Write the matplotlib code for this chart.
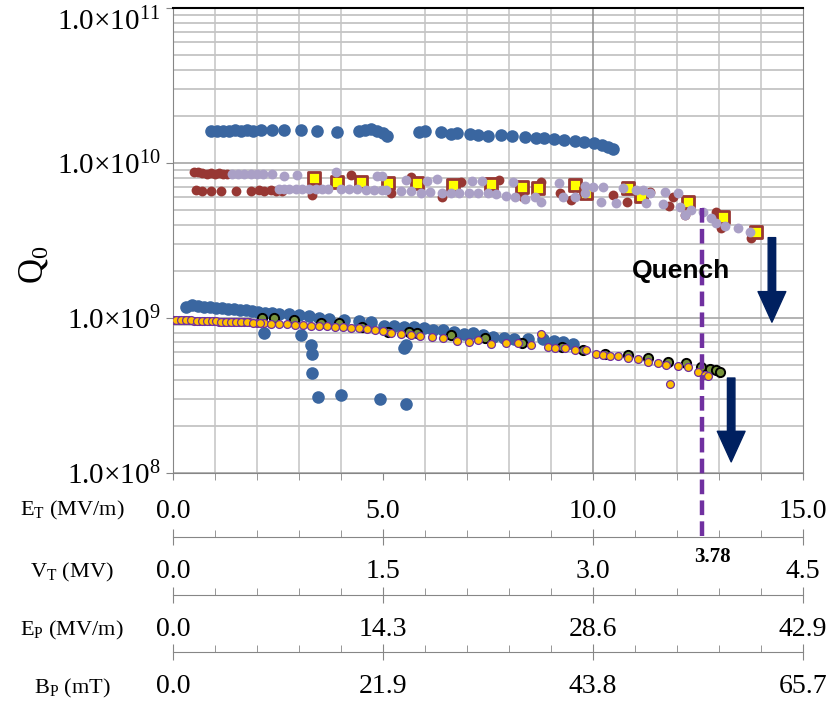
import matplotlib
matplotlib.use("Agg")
import matplotlib.pyplot as plt
from matplotlib import transforms
from matplotlib.ticker import FixedLocator, FixedFormatter, LogLocator, NullFormatter

plt.rcParams['font.family'] = 'Liberation Serif'
plt.rcParams['mathtext.fontset'] = 'custom'
plt.rcParams['mathtext.rm'] = 'Liberation Serif'
plt.rcParams['mathtext.it'] = 'Liberation Serif:italic'

# --- measured Q0 vs accelerating gradient E_T (MV/m) ---
# high-Q run (blue, top)
blue_hi_x = [0.90, 1.05, 1.19, 1.33, 1.47, 1.62, 1.76, 1.90, 2.09, 2.35, 2.64, 3.04, 3.42, 3.90,
             4.42, 4.56, 4.71, 4.85, 4.99, 5.09, 5.85, 5.99, 6.37, 6.61, 6.75, 7.08, 7.27, 7.51,
             7.80, 8.08, 8.37, 8.65, 8.84, 9.08, 9.32, 9.56, 9.79, 10.03, 10.22, 10.36, 10.48]
blue_hi_q = [1.61, 1.61, 1.61, 1.61, 1.63, 1.61, 1.63, 1.61, 1.63, 1.63, 1.63, 1.63, 1.61, 1.58,
             1.61, 1.63, 1.66, 1.61, 1.56, 1.49, 1.58, 1.61, 1.58, 1.54, 1.56, 1.54, 1.52, 1.49,
             1.52, 1.49, 1.47, 1.45, 1.45, 1.43, 1.41, 1.39, 1.36, 1.35, 1.31, 1.27, 1.23]  # x1e10

# dark red run
red_x = [0.50, 0.60, 0.70, 0.80, 0.90, 1.00, 1.10, 1.20, 1.28,
         0.55, 0.69, 0.90, 1.14, 1.50, 1.85, 2.04, 2.16, 2.33, 2.45, 2.59,
         4.23, 3.30, 5.66, 6.85, 7.75, 8.34, 8.75, 9.22, 9.48, 6.40, 5.20, 10.48,
         10.80, 11.36, 11.90, 11.80, 12.20, 12.93, 13.05, 13.76]
red_q = [8.8, 8.7, 8.6, 8.5, 8.6, 8.5, 8.6, 8.5, 8.5,
         6.7, 6.6, 6.6, 6.6, 6.6, 6.6, 6.7, 6.6, 6.7, 6.6, 6.6,
         8.4, 6.2, 8.1, 7.5, 7.8, 6.0, 7.5, 6.4, 5.8, 6.0, 6.4, 6.2,
         5.6, 6.5, 6.0, 5.3, 4.6, 4.8, 3.8, 3.3]  # x1e9

# lavender run
lav_x = [1.40, 1.55, 1.70, 1.85, 2.00, 2.15, 2.35, 2.64, 2.95, 3.87, 4.85, 4.97, 5.54, 6.04,
         6.28, 7.11, 7.35, 8.10, 9.18, 9.82, 10.00, 10.24, 10.72, 11.03, 11.20, 11.36, 11.72, 12.03,
         2.52, 2.64, 2.76, 2.92, 3.07, 3.23, 3.40, 3.54, 3.70, 3.99, 4.18, 4.37, 4.59, 4.78,
         4.97, 5.06, 5.42, 5.66, 5.90, 6.13, 6.40, 6.61, 6.80, 7.04, 7.27, 7.51, 7.70, 7.92,
         8.15, 8.39, 8.63, 8.77, 9.29, 9.58, 9.82, 10.20, 10.55, 11.27, 11.67, 12.07, 12.19, 12.34,
         12.62, 12.81, 12.93, 13.15, 13.45, 13.74]
lav_q = [8.5, 8.5, 8.5, 8.5, 8.5, 8.5, 8.5, 8.3, 8.4, 8.7, 8.3, 8.3, 7.8, 7.6,
         7.9, 7.6, 7.6, 7.5, 7.4, 7.1, 7.0, 7.0, 6.9, 6.7, 6.7, 6.4, 6.5, 6.4,
         6.8, 6.8, 6.8, 6.8, 6.8, 6.8, 6.8, 6.8, 6.8, 6.8, 6.8, 6.8, 6.7, 6.7,
         6.7, 6.7, 6.6, 6.6, 6.4, 6.5, 6.4, 6.4, 6.4, 6.4, 6.4, 6.4, 6.3, 6.1,
         6.0, 5.9, 6.0, 5.6, 6.0, 6.0, 6.4, 5.6, 5.5, 5.5, 5.4, 5.2, 4.6, 5.0,
         4.8, 4.4, 4.1, 3.9, 3.8, 3.6]  # x1e9

# yellow squares
sq_x = [3.35, 3.90, 4.47, 5.11, 5.82, 6.66, 7.58, 8.30, 8.68, 9.58, 9.84, 10.84, 11.15, 12.27, 13.10, 13.88]
sq_q = [8.0, 7.5, 7.5, 7.4, 7.4, 7.2, 7.3, 7.0, 6.9, 7.2, 6.4, 6.9, 6.1, 5.6, 4.5, 3.6]  # x1e9

# low-Q blue run
blue_lo_x = [0.31, 0.45, 0.59, 0.74, 0.88, 1.02, 1.16, 1.31, 1.45, 1.59, 1.74, 1.88, 2.02, 2.19,
             2.35, 2.52, 2.76, 3.00, 3.23, 3.47, 3.71, 4.06, 4.42, 4.71, 5.02, 5.25, 5.49, 5.73,
             5.97, 6.20, 6.44, 6.68, 6.92, 7.15, 7.39, 7.63, 7.87, 8.11, 8.46, 8.82, 9.06, 9.29, 9.53,
             2.16, 3.04, 3.28, 3.30, 3.30, 3.45, 3.99, 4.94, 5.49, 5.54, 5.54]
blue_lo_q = [1.18, 1.21, 1.19, 1.18, 1.18, 1.16, 1.16, 1.14, 1.14, 1.13, 1.13, 1.11, 1.09, 1.08,
             1.08, 1.06, 1.06, 1.04, 1.03, 1.00, 0.99, 0.97, 0.96, 0.94, 0.89, 0.89, 0.87, 0.87,
             0.86, 0.84, 0.84, 0.81, 0.79, 0.80, 0.78, 0.75, 0.74, 0.73, 0.73, 0.73, 0.71, 0.70, 0.68,
             0.80, 0.78, 0.67, 0.59, 0.44, 0.31, 0.32, 0.30, 0.64, 0.67, 0.28]  # x1e9

# green run
green_x = [2.12, 2.40, 2.88, 3.52, 3.95, 4.49, 5.13, 5.61, 5.80, 6.61, 7.44, 8.30, 9.25, 9.77,
           10.29, 10.84, 11.31, 11.79, 12.22, 12.57, 12.79, 12.93, 13.03]
green_q = [1.00, 1.00, 0.97, 0.93, 0.93, 0.87, 0.81, 0.81, 0.80, 0.78, 0.74, 0.69, 0.65, 0.62,
           0.59, 0.58, 0.55, 0.52, 0.51, 0.48, 0.47, 0.46, 0.45]  # x1e9

# orange run
orange_x = [0.02, 0.14, 0.26, 0.38, 0.50, 0.62, 0.74, 0.86, 0.97, 1.09, 1.21, 1.33, 1.45, 1.57,
            1.69, 1.81, 2.00, 2.16, 2.33, 2.52, 2.71, 2.90, 3.09, 3.28, 3.47, 3.66, 3.85, 4.04,
            4.23, 4.42, 4.61, 4.80, 4.99, 5.18, 5.42, 5.66, 5.89, 6.16, 6.44, 6.75, 7.04, 7.27,
            7.58, 7.94, 8.22, 8.53, 8.77, 8.94, 9.10, 9.34, 9.58, 9.84, 10.08, 10.24, 10.41, 10.60,
            10.84, 11.08, 11.31, 11.55, 11.74, 11.84, 12.03, 12.27, 12.51, 12.67, 12.74,
            0.08, 0.20, 0.32, 0.44, 0.56, 0.68, 0.80, 0.92, 1.03, 1.15, 1.27, 1.39, 1.51, 1.63,
            1.75, 1.90, 2.08]
orange_q = [0.97, 0.97, 0.97, 0.97, 0.96, 0.96, 0.96, 0.96, 0.96, 0.94, 0.94, 0.94, 0.94, 0.94,
            0.94, 0.94, 0.93, 0.93, 0.92, 0.92, 0.92, 0.90, 0.90, 0.89, 0.89, 0.89, 0.87, 0.87,
            0.86, 0.86, 0.85, 0.84, 0.82, 0.80, 0.79, 0.78, 0.76, 0.75, 0.74, 0.71, 0.70, 0.72,
            0.68, 0.69, 0.69, 0.67, 0.79, 0.65, 0.64, 0.64, 0.62, 0.62, 0.59, 0.58, 0.57, 0.57,
            0.55, 0.54, 0.52, 0.51, 0.50, 0.375, 0.49, 0.48, 0.45, 0.43, 0.42,
            0.97, 0.97, 0.97, 0.97, 0.96, 0.96, 0.96, 0.96, 0.95, 0.94, 0.94, 0.94, 0.94, 0.94,
            0.94, 0.93, 0.93]  # x1e9

# quench gradient and conversion factors E_T -> V_T, E_P, B_P
quench_et = 12.6
et_ticks = [0, 5, 10, 15]
scales = [("V$_\\mathrm{T}$ (MV)", 0.3),
          ("E$_\\mathrm{P}$ (MV/m)", 2.86),
          ("B$_\\mathrm{P}$ (mT)", 4.38)]

W, H = 836, 703
fig = plt.figure(figsize=(W / 100, H / 100), dpi=100)
ax = fig.add_axes([173 / W, 1 - 473 / H, 630 / W, 465 / H])
ax.set_yscale('log')
ax.set_xlim(0, 15)
ax.set_ylim(1e8, 1e11)

# grid
ax.yaxis.set_minor_locator(LogLocator(base=10, subs=range(2, 10)))
ax.yaxis.set_minor_formatter(NullFormatter())
ax.grid(True, which='major', axis='y', color='#a6a6a6', lw=1.2)
ax.grid(True, which='minor', axis='y', color='#c4c4c4', lw=1.3)
ax.xaxis.set_major_locator(FixedLocator(et_ticks))
ax.xaxis.set_minor_locator(FixedLocator(range(16)))
ax.grid(True, which='minor', axis='x', color='#c4c4c4', lw=1.1)
ax.axvline(10, color='#8c8c8c', lw=1.1, zorder=0.6)
ax.set_axisbelow(True)

s = lambda v, k: [a * k for a in v]

ax.scatter(blue_hi_x, s(blue_hi_q, 1e10), s=82, color='#3a66a0', lw=0, zorder=3)
ax.scatter(red_x, s(red_q, 1e9), s=50, color='#973733', lw=0, zorder=3)
ax.scatter(sq_x, s(sq_q, 1e9), s=85, marker='s', color='#ffff00', edgecolor='#973733', lw=2, zorder=4)
ax.scatter(lav_x, s(lav_q, 1e9), s=50, color='#aaa0c6', lw=0, zorder=5)
ax.scatter(blue_lo_x, s(blue_lo_q, 1e9), s=82, color='#3a66a0', lw=0, zorder=3)
ax.scatter(green_x, s(green_q, 1e9), s=44, color='#77933c', edgecolor='black', lw=1.4, zorder=4)
ax.scatter(orange_x, s(orange_q, 1e9), s=32, color='#ffc000', edgecolor='#7030a0', lw=0.9, zorder=5)

# quench marker
ax.plot([quench_et, quench_et], [5.1e9, 3.9e7], color='#7030a0', lw=3.2,
        ls=(0, (3.3, 1.4)), clip_on=False, zorder=6)
ax.text(12.1, 2.0e9, 'Quench', ha='center', va='center', fontsize=19,
        fontfamily='Liberation Sans', fontweight='bold', zorder=7)
tr = transforms.blended_transform_factory(ax.transData, fig.transFigure)
fig.text(quench_et + 0.25, 1 - 557 / H, '%.2f' % (quench_et * scales[0][1]), transform=tr,
         ha='center', va='center', fontsize=15, fontweight='bold')

arrow = dict(arrowstyle='simple,head_length=1.1,head_width=1.0,tail_width=0.27',
             mutation_scale=20, color='#002060', shrinkA=0, shrinkB=0)
ax.annotate('', xy=(14.26, 9.4e8), xytext=(14.26, 3.3e9), arrowprops=arrow, zorder=7)
ax.annotate('', xy=(13.29, 1.18e8), xytext=(13.29, 4.1e8), arrowprops=arrow, zorder=7)

# axes styling
for side in ['left', 'bottom', 'right']:
    ax.spines[side].set_color('#868686')
ax.spines['top'].set_color('black')
ax.spines['top'].set_linewidth(1.5)
ax.set_yticks([1e8, 1e9, 1e10, 1e11])
ax.set_yticklabels(['1.0×10$^{%d}$' % e for e in [8, 9, 10, 11]])
ax.get_yticklabels()[-1].set_va('top')
ax.tick_params(axis='y', which='major', length=5, color='#868686', labelsize=21, pad=4)
ax.tick_params(axis='y', which='minor', length=0)
ax.set_xticklabels(['%.1f' % v for v in et_ticks])
ax.tick_params(axis='x', which='both', length=5, color='#868686', labelsize=20, pad=14)
ax.set_ylabel('Q$_0$', fontsize=25, labelpad=2)
ax.yaxis.set_label_coords(-0.195, 0.447)

fig.text(72 / W, 1 - 510 / H, 'E$_\\mathrm{T}$ (MV/m)', ha='center', va='center', fontsize=16)

# secondary scales under the main axis
for (label, k), ypx, lpx in zip(scales, [537, 595, 652], [572, 630, 688]):
    sub = fig.add_axes([173 / W, 1 - ypx / H, 630 / W, 0.01])
    sub.set_xlim(0, 15)
    sub.patch.set_visible(False)
    for side in ['top', 'left', 'right']:
        sub.spines[side].set_visible(False)
    sub.spines['bottom'].set_color('#868686')
    sub.set_yticks([])
    sub.xaxis.set_major_locator(FixedLocator(et_ticks))
    sub.xaxis.set_major_formatter(FixedFormatter(['%.1f' % (v * k) for v in et_ticks]))
    sub.xaxis.set_minor_locator(FixedLocator(range(16)))
    sub.tick_params(axis='x', which='major', direction='inout', length=12, color='#868686',
                    labelsize=20, pad=10)
    sub.tick_params(axis='x', which='minor', direction='in', length=5, color='#868686')
    fig.text(72 / W, 1 - lpx / H, label, ha='center', va='center', fontsize=16)

fig.savefig('out.png', dpi=100)
